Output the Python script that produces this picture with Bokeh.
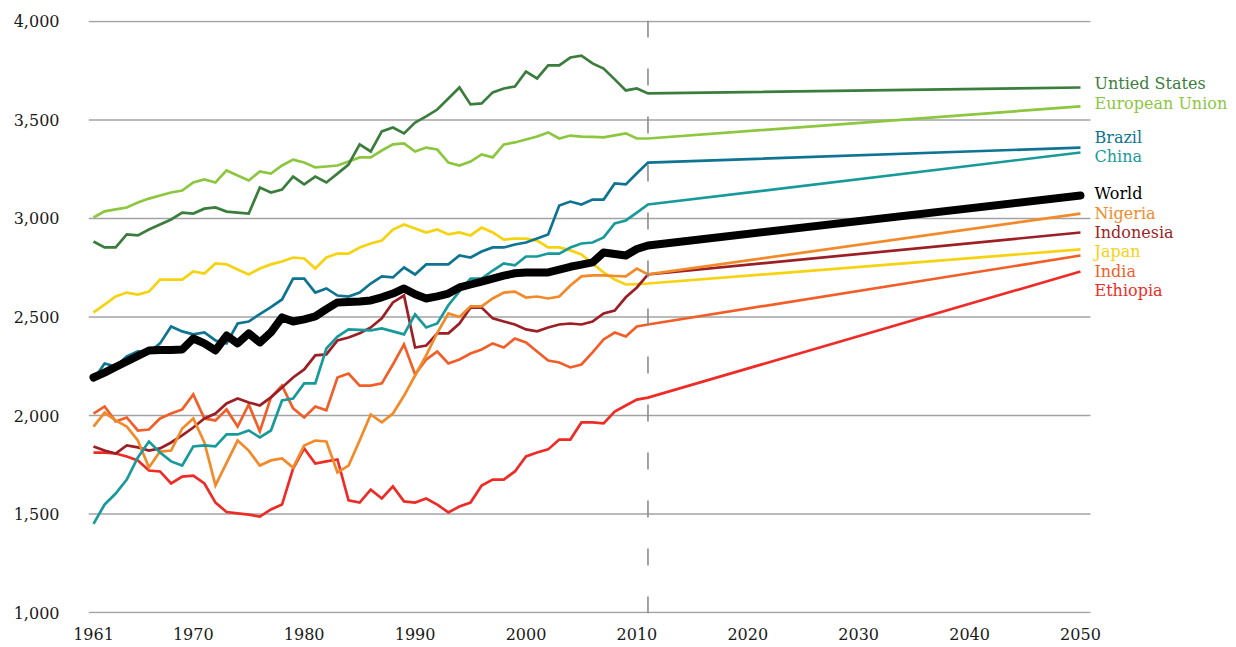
from bokeh.plotting import figure
from bokeh.models import Label, Span, FixedTicker, NumeralTickFormatter, Range1d
from bokeh.embed import file_html
from bokeh.resources import INLINE

years = list(range(1961, 2012))
proj_year = 2050

united_states = [2883, 2853, 2853, 2919, 2914, 2944, 2970, 2995, 3030, 3025,
                 3050, 3056, 3035, 3030, 3025, 3157, 3132, 3147, 3213, 3173,
                 3213, 3183, 3228, 3274, 3376, 3340, 3442, 3462, 3432, 3487,
                 3518, 3553, 3609, 3665, 3579, 3584, 3640, 3660, 3670, 3746,
                 3711, 3777, 3777, 3817, 3827, 3787, 3761, 3706, 3650, 3660,
                 3635]
european_union = [3005, 3036, 3046, 3056, 3081, 3101, 3117, 3132, 3142, 3183,
                  3198, 3183, 3244, 3218, 3193, 3239, 3228, 3269, 3299, 3284,
                  3259, 3264, 3269, 3289, 3310, 3310, 3345, 3376, 3381, 3340,
                  3360, 3350, 3284, 3269, 3289, 3325, 3310, 3376, 3386, 3401,
                  3416, 3437, 3406, 3421, 3416, 3414, 3412, 3422, 3432, 3406,
                  3406]
brazil = [2183, 2264, 2249, 2300, 2325, 2320, 2366, 2452, 2427, 2412,
          2422, 2381, 2366, 2467, 2477, 2515, 2550, 2589, 2695, 2695,
          2624, 2645, 2609, 2604, 2624, 2670, 2706, 2701, 2751, 2716,
          2767, 2767, 2767, 2812, 2802, 2832, 2853, 2853, 2868, 2878,
          2898, 2919, 3066, 3086, 3071, 3096, 3096, 3178, 3173, 3230,
          3284]
china = [1450, 1548, 1604, 1675, 1787, 1868, 1812, 1767, 1746, 1843,
         1848, 1843, 1904, 1904, 1924, 1889, 1924, 2076, 2086, 2163,
         2163, 2340, 2401, 2437, 2435, 2432, 2442, 2427, 2412, 2513,
         2447, 2467, 2560, 2630, 2695, 2695, 2736, 2772, 2762, 2807,
         2807, 2822, 2822, 2853, 2873, 2878, 2904, 2975, 2990, 3030,
         3071]
world = [2193, 2218, 2246, 2274, 2302, 2330, 2332, 2333, 2335, 2391,
         2366, 2330, 2406, 2366, 2417, 2371, 2422, 2498, 2477, 2488,
         2503, 2540, 2574, 2576, 2579, 2584, 2600, 2619, 2645, 2615,
         2594, 2605, 2619, 2650, 2665, 2680, 2695, 2710, 2722, 2726,
         2726, 2726, 2740, 2755, 2766, 2777, 2827, 2820, 2812, 2845,
         2863]
nigeria = [1944, 2015, 1975, 1944, 1873, 1736, 1817, 1822, 1934, 1985,
           1863, 1645, 1760, 1873, 1822, 1746, 1772, 1782, 1736, 1848,
           1873, 1868, 1711, 1746, 1873, 2005, 1965, 2010, 2100, 2203,
           2305, 2420, 2518, 2500, 2554, 2554, 2594, 2624, 2629, 2599,
           2604, 2594, 2604, 2660, 2706, 2711, 2711, 2708, 2706, 2746,
           2716]
indonesia = [1843, 1822, 1807, 1848, 1838, 1822, 1833, 1863, 1899, 1939,
             1985, 2010, 2061, 2086, 2066, 2051, 2092, 2142, 2193, 2234,
             2305, 2310, 2381, 2396, 2417, 2447, 2493, 2574, 2609, 2345,
             2355, 2417, 2417, 2467, 2548, 2548, 2493, 2477, 2462, 2437,
             2427, 2447, 2462, 2467, 2462, 2477, 2518, 2533, 2600, 2650,
             2716]
japan = [2523, 2563, 2604, 2624, 2614, 2629, 2690, 2690, 2690, 2731,
         2721, 2772, 2767, 2741, 2716, 2746, 2767, 2782, 2802, 2797,
         2746, 2802, 2822, 2822, 2853, 2873, 2888, 2944, 2970, 2949,
         2929, 2944, 2919, 2929, 2914, 2954, 2929, 2893, 2898, 2898,
         2888, 2853, 2853, 2838, 2817, 2772, 2726, 2690, 2665, 2667,
         2670]
india = [2010, 2046, 1970, 1990, 1924, 1929, 1985, 2010, 2031, 2107,
         1985, 1975, 2031, 1944, 2056, 1919, 2092, 2152, 2036, 1990,
         2046, 2026, 2193, 2213, 2152, 2152, 2163, 2259, 2361, 2208,
         2284, 2325, 2264, 2284, 2315, 2335, 2366, 2345, 2391, 2371,
         2325, 2279, 2269, 2244, 2259, 2320, 2386, 2421, 2401, 2452,
         2462]
ethiopia = [1812, 1812, 1807, 1792, 1772, 1721, 1716, 1655, 1690, 1695,
            1655, 1558, 1510, 1503, 1497, 1487, 1523, 1548, 1731, 1833,
            1756, 1767, 1777, 1569, 1558, 1624, 1579, 1640, 1564, 1558,
            1579, 1548, 1508, 1538, 1558, 1645, 1675, 1675, 1716, 1792,
            1812, 1828, 1878, 1878, 1965, 1965, 1960, 2020, 2051, 2081,
            2091]

names = ["Untied States", "European Union", "Brazil", "China", "World",
         "Nigeria", "Indonesia", "Japan", "India", "Ethiopia"]
history = [united_states, european_union, brazil, china, world,
           nigeria, indonesia, japan, india, ethiopia]
projection_2050 = [3665, 3569, 3360, 3335, 3117, 3025, 2929, 2843, 2812, 2731]

colors = ["#3b7d3c", "#8dc63f", "#0e7492", "#199a9a", "#000000",
          "#f28a2a", "#9b1f25", "#f5d311", "#f15e28", "#ee2c27"]
label_y = [3685, 3584, 3411, 3315, 3127, 3025, 2929, 2832, 2731, 2635]

y_ticks = [1000, 1500, 2000, 2500, 3000, 3500, 4000]
x_ticks = [1961, 1970, 1980, 1990, 2000, 2010, 2020, 2030, 2040, 2050]
split_year = 2011

X0, X1 = 1960.55, 2064.07       # visible x range (frame extends under labels)
GRID_END = 2050.9               # grid lines stop just past 2050
FONT = "DejaVu Serif"

p = figure(width=1236, height=646, output_backend="svg", toolbar_location=None,
           x_range=Range1d(X0, X1), y_range=Range1d(995, 4005),
           min_border_left=88, min_border_right=0, min_border_top=20,
           min_border_bottom=33)
p.outline_line_color = None
p.background_fill_color = "white"
p.border_fill_color = "white"

p.xgrid.grid_line_color = None
p.ygrid.grid_line_color = None
p.yaxis.ticker = FixedTicker(ticks=y_ticks)
p.xaxis.ticker = FixedTicker(ticks=x_ticks)
p.yaxis.formatter = NumeralTickFormatter(format="0,0")

# horizontal grid lines at the y ticks, ending just right of 2050
p.segment(x0=[X0] * len(y_ticks), y0=y_ticks, x1=[GRID_END] * len(y_ticks),
          y1=y_ticks, line_color="#a3a3a3", line_width=1.5)

for ax in (p.xaxis, p.yaxis):
    ax.axis_line_color = None
    ax.major_tick_line_color = None
    ax.minor_tick_line_color = None
    ax.major_tick_in = 0
    ax.major_tick_out = 0
    ax.minor_tick_out = 0
    ax.major_label_text_font = FONT
    ax.major_label_text_font_size = "16px"
    ax.major_label_text_color = "#1a1a1a"
p.yaxis.major_label_standoff = 29
p.xaxis.major_label_standoff = 14

p.add_layout(Span(location=split_year, dimension="height", line_color="#8c8c8c",
                  line_width=1.6, line_dash="17 31"))

draw_order = [9, 8, 7, 6, 5, 3, 2, 1, 0, 4]
for i in draw_order:
    xs = years + [proj_year]
    ys = history[i] + [projection_2050[i]]
    if names[i] == "World":
        p.line(xs, ys, line_color=colors[i], line_width=8,
               line_join="round", line_cap="round")
    else:
        p.line(xs, ys, line_color=colors[i], line_width=2.7, line_join="miter")

for i, name in enumerate(names):
    p.add_layout(Label(x=proj_year, y=label_y[i], text=name, x_offset=14,
                       text_font=FONT, text_font_size="16px",
                       text_color=colors[i], text_baseline="middle",
                       text_align="left"))

open("out.html", "w").write(file_html(p, INLINE))
